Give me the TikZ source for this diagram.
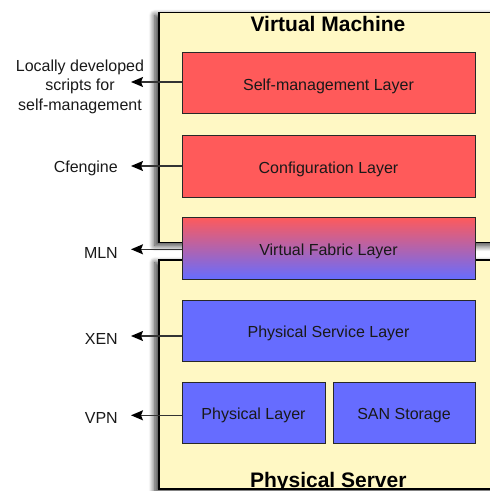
\documentclass[tikz,border=0pt]{standalone}
\usepackage{fontspec}
\setmainfont{Liberation Sans}
\usetikzlibrary{shadows.blur,arrows.meta}

\definecolor{boxyellow}{RGB}{255,248,196}
\definecolor{layerred}{RGB}{255,90,90}
\definecolor{layerblue}{RGB}{102,108,255}
\definecolor{fabricpurple}{RGB}{135,22,132}
\definecolor{edgegray}{RGB}{40,40,40}

\tikzset{
  hostbox/.style={draw=black, line width=1.5bp, fill=boxyellow, inner sep=0pt,
    blur shadow={shadow xshift=-4bp, shadow yshift=-3bp,
                 shadow blur radius=6bp, shadow blur steps=12, shadow opacity=80}},
  hosttitle/.style={font=\fontsize{21bp}{25bp}\selectfont\bfseries, inner sep=0pt, anchor=base},
  layer/.style={draw=edgegray, line width=1bp, inner sep=0pt, minimum height=61bp,
    text height=14.4bp, text depth=0pt,
    font=\fontsize{16bp}{19bp}\selectfont, text=black!90},
  redlayer/.style={layer, fill=layerred},
  bluelayer/.style={layer, fill=layerblue},
  tool/.style={font=\fontsize{16bp}{19.5bp}\selectfont, inner sep=0pt, text=black!90},
  conn/.style={draw=black!80, line width=1.3bp,
    -{Stealth[length=12bp,width=10bp,inset=2bp,black]}}
}

\begin{document}
\begin{tikzpicture}[x=1bp,y=-1bp]
\useasboundingbox (0,0) rectangle (490,491);
\clip (0,0) rectangle (490,491);

% host containers
\node[hostbox, anchor=north west, minimum width=345bp, minimum height=230bp] (vm) at (158,11.7) {};
\node[hosttitle] (vmtitle) at (328,31.7) {Virtual Machine};

\node[hostbox, anchor=north west, minimum width=345bp, minimum height=229bp] (ps) at (158,259) {};
\begin{scope}
  \clip (ps.north west) rectangle (ps.south east);
  \node[hosttitle] (pstitle) at (328.3,487.6) {Physical Server};
\end{scope}
\draw[line width=1.5bp] (ps.south west) -- (ps.south east);

% layers
\node[redlayer, minimum width=293bp] (sm) at (328.5,83.5) {Self-management Layer};
\node[redlayer, minimum width=293bp] (cfg) at (328.5,166.5) {Configuration Layer};
\node[layer, minimum width=293bp, minimum height=62bp,
      top color=layerred, middle color=fabricpurple, bottom color=layerblue] (vf) at (328.5,248) {Virtual Fabric Layer};
\node[bluelayer, minimum width=293bp] (psl) at (328.5,330.5) {Physical Service Layer};
\node[bluelayer, minimum width=143bp] (pl) at (253.5,412.5) {Physical Layer};
\node[bluelayer, minimum width=142bp] (san) at (404,412.5) {SAN Storage};

% tools used at each layer
\coordinate (t1) at (131,82);
\coordinate (t2) at (131,166);
\coordinate (t3) at (131,249.3);
\coordinate (t4) at (131,336);
\coordinate (t5) at (131,415.3);

\node[tool, align=center] (scripts) at (80,86.7) {Locally developed\\scripts for\\self-management};
\node[tool, anchor=base east] (cfe) at (118,172.6) {Cfengine};
\node[tool, anchor=base east] (mln) at (118,258.3) {MLN};
\node[tool, anchor=base east] (xen) at (118,344.1) {XEN};
\node[tool, anchor=base east] (vpn) at (118,423.3) {VPN};

\draw[conn] (sm.west |- t1) -- (t1);
\draw[conn] (cfg.west |- t2) -- (t2);
\draw[conn] (vf.west |- t3) -- (t3);
\draw[conn] (psl.west |- t4) -- (t4);
\draw[conn] (pl.west |- t5) -- (t5);
\end{tikzpicture}
\end{document}
